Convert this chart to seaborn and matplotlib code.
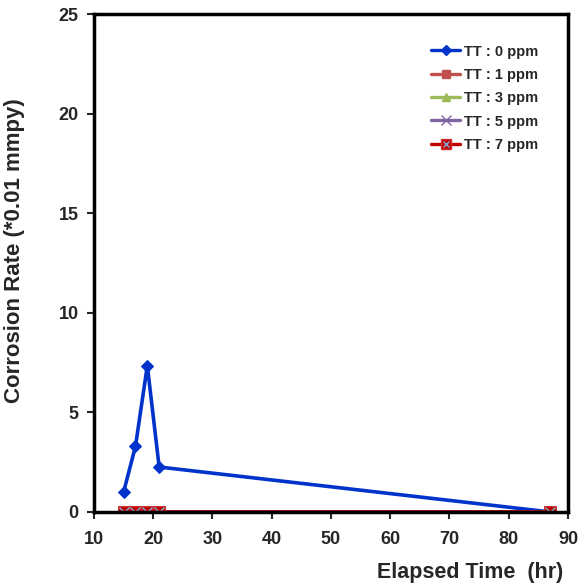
import matplotlib
matplotlib.use("Agg")
import matplotlib.pyplot as plt
import seaborn as sns
import pandas as pd
from matplotlib.lines import Line2D

time_hr = [15, 17, 19, 21, 87]
tt0 = [1.0, 3.3, 7.35, 2.26, 0.0]
tt1 = [0.0, 0.0, 0.0, 0.0, 0.0]
tt3 = [0.0, 0.0, 0.0, 0.0, 0.0]
tt5 = [0.0, 0.0, 0.0, 0.0, 0.0]
tt7 = [0.0, 0.0, 0.0, 0.0, 0.0]
labels = ["TT : 0 ppm", "TT : 1 ppm", "TT : 3 ppm", "TT : 5 ppm", "TT : 7 ppm"]
xticks = [10, 20, 30, 40, 50, 60, 70, 80, 90]
yticks = [0, 5, 10, 15, 20, 25]

sns.set_style("ticks")
plt.rcParams['font.family'] = ['Liberation Sans', 'DejaVu Sans']
plt.rcParams['font.weight'] = 'bold'

fig = plt.figure(figsize=(5.78, 5.86), dpi=100)
ax = fig.add_axes([0.1626, 0.1263, 0.8201, 0.849])

styles = [
    dict(color="#0033CC", marker="D", ms=6, mec="#0033CC"),
    dict(color="#C0504D", marker="s", ms=7, mec="#C0504D"),
    dict(color="#9BBB59", marker="^", ms=7, mec="#9BBB59"),
    dict(color="#8064A2", marker="x", ms=8, mec="#8064A2"),
    dict(color="#C00000", marker="s", ms=9, mec="#D03030"),
]
series = [tt0, tt1, tt3, tt5, tt7]
handles = []
for vals, lab, st in zip(series, labels, styles):
    df = pd.DataFrame({"t": time_hr, "v": vals})
    sns.lineplot(data=df, x="t", y="v", ax=ax, color=st["color"], marker=st["marker"],
                 markersize=st["ms"], markeredgecolor=st["mec"], markerfacecolor=st["color"],
                 linewidth=2.6, legend=False)
    h = Line2D([], [], color=st["color"], marker=st["marker"], markersize=min(st["ms"], 8) - 1,
               markeredgecolor=st["mec"], markerfacecolor=st["color"], linewidth=2.4)
    handles.append(h)

# overlay the light-blue cross inside the 7 ppm markers
df7 = pd.DataFrame({"t": time_hr, "v": tt7})
sns.lineplot(data=df7, x="t", y="v", ax=ax, color="#C00000", linewidth=0, marker="x",
             markersize=7, markeredgecolor="#7FB0D8", markeredgewidth=1.0, legend=False)
h7x = Line2D([], [], linewidth=0, marker="x", markersize=5, markeredgecolor="#7FB0D8", markeredgewidth=1.0)
handles[4] = (handles[4], h7x)

ax.set_xlim(10, 90)
ax.set_ylim(0, 25)
ax.set_xticks(xticks)
ax.set_yticks(yticks)
ax.tick_params(axis="both", direction="out", length=5, width=1.5, labelsize=13, pad=6)
ax.tick_params(axis="x", pad=9)
for lab in ax.get_xticklabels() + ax.get_yticklabels():
    lab.set_fontweight("bold")
for sp in ax.spines.values():
    sp.set_linewidth(2.5)
    sp.set_color("black")

ax.set_xlabel("Elapsed Time  (hr)", fontsize=15.5, fontweight="bold")
ax.set_ylabel("Corrosion Rate (*0.01 mmpy)", fontsize=16, fontweight="bold")
ax.xaxis.set_label_coords(0.793, -0.1)
ax.yaxis.set_label_coords(-0.146, 0.525)

ax.legend(handles, labels, loc="upper right", bbox_to_anchor=(0.965, 0.966), frameon=False,
          prop={"weight": "bold", "size": 10.5}, handlelength=2.0, handletextpad=0.25,
          labelspacing=0.64)

fig.savefig("out.png", dpi=100)
